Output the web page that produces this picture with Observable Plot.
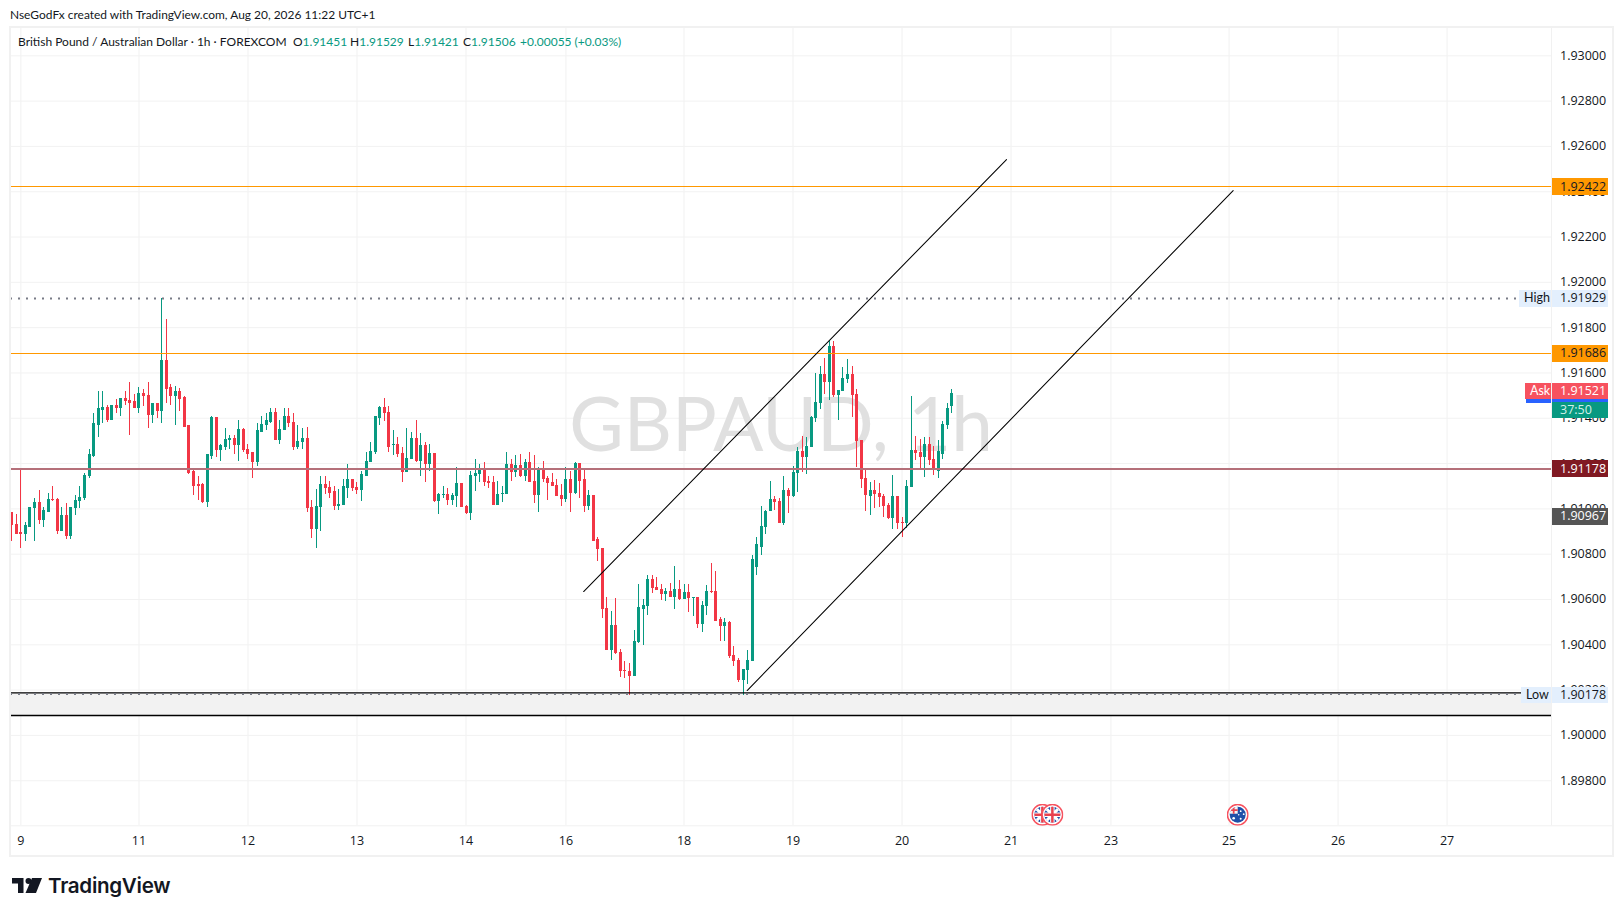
<!DOCTYPE html>
<html>
<head>
<meta charset="utf-8">
<script src="https://cdn.jsdelivr.net/npm/d3@7"></script>
<script src="https://cdn.jsdelivr.net/npm/@observablehq/plot@0.6"></script>
<style>
html,body{margin:0;padding:0;background:#fff;width:1623px;height:916px;overflow:hidden}
#wrap{position:relative;width:1623px;height:916px;font-family:Lato,sans-serif;color:#131722}
#wrap svg.plot{position:absolute;left:0;top:0}
.t{position:absolute;white-space:nowrap;font-size:12px;line-height:16px}
.g{color:#089981}
#frame{position:absolute;left:9px;top:26px;width:1601px;height:827px;border:2px solid #f1f1f1;pointer-events:none}
</style>
</head>
<body>
<div id="wrap"></div>
<script>
// GBP/AUD hourly candles, prices in points (1 point = 0.00001)
const opens = [
190981,190929,190894,190885,190920,191000,191026,190947,190986,191039,191039,190898,190969,190876,191000,191031,191044,191141,191233,191370,
191436,191445,191388,191454,191441,191485,191476,191472,191441,191507,191498,191414,191463,191428,191653,191533,191498,191516,191489,191366,
191163,191106,191106,191026,191233,191401,191256,191273,191300,191308,191278,191348,191260,191247,191203,191339,191366,191383,191423,191304,
191344,191406,191379,191273,191291,191308,191004,190907,191004,191106,191092,191075,191009,191013,191092,191128,191092,191079,191145,191203,
191247,191401,191445,191423,191278,191282,191242,191159,191216,191309,191207,191278,191198,191242,191031,191057,191062,191035,191053,191110,
191009,190978,191141,191150,191172,191119,191115,191017,191062,191062,191194,191159,191189,191145,191203,191119,191057,191172,191132,191115,
191101,191057,191040,191128,191066,191198,191128,191009,191057,190863,190823,190558,190373,190483,190365,190285,190281,190259,190408,190558,
190567,190686,190651,190642,190620,190633,190607,190642,190598,190629,190603,190607,190488,190567,190633,190633,190510,190479,190497,190351,
190329,190241,190285,190325,190740,190828,190916,190987,191040,191031,190934,191080,191053,191155,191252,191225,191269,191397,191463,191591,
191560,191715,191499,191516,191569,191591,191503,191300,191133,191053,191080,191066,191053,191013,190956,191053,190938,190934,191093,191256,
191247,191225,191283,191216,191165,191240,191370,191451];
const highs = [
190986,190976,191172,190941,191008,191047,191083,191004,191066,191101,191044,191004,191022,191008,191061,191097,191158,191264,191423,191516,
191516,191458,191458,191481,191489,191516,191556,191507,191538,191529,191560,191463,191467,191929,191838,191547,191542,191533,191498,191370,
191176,191145,191114,191242,191406,191401,191286,191357,191326,191326,191388,191353,191282,191251,191375,191410,191419,191441,191441,191392,
191445,191445,191419,191370,191353,191361,191039,191084,191141,191141,191119,191097,191084,191128,191198,191128,191115,191163,191247,191295,
191410,191450,191489,191454,191348,191313,191273,191353,191339,191392,191331,191291,191282,191242,191066,191097,191088,191070,191181,191110,
191017,191163,191216,191194,191203,191141,191145,191119,191101,191251,191216,191234,191242,191220,191247,191234,191181,191207,191141,191154,
191128,191106,191181,191163,191203,191198,191176,191079,191061,190872,190823,190611,190545,190603,190378,190325,190316,190462,190664,190598,
190704,190704,190695,190664,190647,190669,190744,190682,190664,190664,190611,190607,190589,190660,190761,190722,190522,190514,190501,190391,
190338,190290,190373,190793,190872,191009,190991,191119,191053,191044,191141,191088,191185,191269,191318,191313,191406,191596,191627,191662,
191741,191741,191521,191622,191658,191627,191525,191300,191168,191115,191124,191110,191062,191022,191146,191053,190963,191124,191494,191318,
191305,191313,191313,191274,191300,191385,191465,191529];
const lows = [
190858,190885,190823,190856,190916,190856,190933,190920,190986,191031,190889,190898,190863,190863,190969,191000,191039,191136,191229,191317,
191379,191383,191388,191423,191406,191458,191322,191441,191419,191450,191353,191375,191401,191375,191463,191458,191370,191432,191361,191150,
191061,191039,191022,191004,191216,191229,191207,191256,191260,191242,191211,191251,191220,191136,191185,191339,191348,191375,191300,191286,
191344,191361,191256,191264,191260,190986,190870,190823,190898,191062,191048,190991,190995,191013,191048,191075,191062,191031,191141,191203,
191238,191370,191384,191251,191234,191229,191115,191159,191216,191203,191145,191115,191167,191026,190973,191044,191017,191013,191004,191004,
190973,190947,191075,191115,191101,191088,191013,191017,191026,191062,191123,191137,191137,191123,191115,191022,190982,191115,191035,191097,
191053,191009,191026,190982,191062,191044,190982,190995,190854,190766,190514,190373,190329,190356,190254,190250,190178,190259,190404,190395,
190528,190625,190638,190594,190589,190607,190554,190594,190598,190541,190523,190470,190453,190528,190625,190505,190415,190413,190338,190303,
190232,190178,190223,190325,190708,190793,190885,190987,190991,190934,190925,190978,191049,191071,191159,191150,191269,191380,191437,191503,
191477,191490,191388,191516,191552,191402,191181,191088,190987,190969,191000,191005,190960,190952,190908,190908,190872,190912,191093,191212,
191172,191137,191190,191146,191135,191220,191350,191421];
const closes = [
190926,190889,190885,190925,191004,191026,190947,190991,191039,191035,190898,190969,190876,191004,191035,191048,191145,191238,191375,191441,
191445,191388,191454,191441,191485,191472,191467,191441,191507,191494,191414,191463,191428,191653,191529,191498,191516,191485,191361,191158,
191101,191101,191026,191238,191401,191256,191278,191304,191308,191278,191348,191256,191242,191203,191344,191370,191388,191423,191304,191348,
191406,191375,191273,191295,191308,191000,190907,191009,191106,191088,191070,191009,191017,191097,191128,191088,191079,191150,191207,191251,
191406,191445,191419,191273,191282,191238,191159,191220,191309,191207,191278,191198,191242,191031,191062,191062,191035,191057,191110,191004,
190978,191145,191154,191172,191115,191110,191017,191062,191066,191194,191159,191189,191145,191203,191115,191057,191172,191128,191110,191097,
191053,191040,191128,191066,191198,191123,191009,191057,190858,190819,190554,190373,190483,190360,190281,190281,190259,190413,190563,190572,
190686,190647,190638,190620,190633,190607,190642,190598,190629,190603,190607,190488,190572,190633,190629,190505,190479,190497,190347,190325,
190241,190290,190329,190775,190841,190919,190987,191040,191027,190934,191080,191053,191159,191252,191225,191274,191402,191468,191591,191560,
191715,191499,191521,191574,191591,191499,191296,191128,191058,191080,191062,191049,191009,190956,191053,190934,190934,191097,191256,191243,
191225,191283,191212,191177,191250,191370,191440,191506];

const dayLabels = ["9","11","12","13","14","16","18","19","20","21","23","25","26","27"];
const dayBars   = [2,28,52,76,100,122,148,172,196,220,242,268,292,316];
const priceTicks = [1.898,1.9,1.902,1.904,1.906,1.908,1.91,1.912,1.914,1.916,1.918,1.92,1.922,1.924,1.926,1.928,1.93];

const levelPrices = [1.92422,1.91686,1.91178];
const levelColors = ["#ff9800","#ff9800","#b5707a"];
const levelWidths = [1,1,2];
const highPrice = 1.91929, lowPrice = 1.90178;
const zoneTop = 1.90188, zoneBottom = 1.90088;

const channelUpperBars = [125.9,219], channelUpperPrices = [1.90635,1.92542];
const channelLowerBars = [161.9,268.9], channelLowerPrices = [1.90198,1.92405];

const tagPrices = [1.92422,1.91929,1.91686,1.91506,1.91521,1.91437,1.91178,1.90967,1.90178];
const tagLabels = ["1.92422","1.91929","1.91686","","1.91521","37:50","1.91178","1.90967","1.90178"];
const tagFills  = ["#ff9800","#e3effd","#ff9800","#2962ff","#f7525f","#089981","#801922","#555555","#e3effd"];
const tagInks   = ["#131722","#131722","#131722","#ffffff","#ffffff","#d5f0ea","#ffffff","#ffffff","#131722"];
const sideNames  = ["High","","Ask","Low"];
const sidePrices = [1.91929,1.91506,1.91521,1.90178];
const sideFills  = ["#e3effd","#2962ff","#f7525f","#e3effd"];
const sideInks   = ["#131722","#ffffff","#ffffff","#131722"];
const sideLeft   = [1519,1526,1525,1521];

const eventBars = [226.9,229.1,269.9];
const eventKinds = ["uk","uk","au"];
const eventPrice = 1.8965;

const candles = opens.map((o,i)=>({i,o:o/1e5,h:highs[i]/1e5,l:lows[i]/1e5,c:closes[i]/1e5}));
const colorOf = d => d.c >= d.o ? "#089981" : "#f23645";
const idx = px => (px-11.3)/4.542;
const xMin = idx(10), xMax = idx(1551);

const svgUri = s => "data:image/svg+xml;charset=utf-8,"+encodeURIComponent(s);
const uk = svgUri(`<svg xmlns="http://www.w3.org/2000/svg" viewBox="0 0 44 44"><defs><clipPath id="c"><circle cx="22" cy="22" r="16"/></clipPath></defs><circle cx="22" cy="22" r="20.5" fill="#fff" stroke="#f7525f" stroke-width="3"/><g clip-path="url(#c)"><rect width="44" height="44" fill="#1f4fa8"/><path d="M4 4L40 40M40 4L4 40" stroke="#fff" stroke-width="6"/><path d="M22 2V42M2 22H42" stroke="#fff" stroke-width="9"/><path d="M22 2V42M2 22H42" stroke="#e8414f" stroke-width="5"/></g></svg>`);
const au = svgUri(`<svg xmlns="http://www.w3.org/2000/svg" viewBox="0 0 44 44"><defs><clipPath id="c"><circle cx="22" cy="22" r="16"/></clipPath></defs><circle cx="22" cy="22" r="20.5" fill="#fff" stroke="#f7525f" stroke-width="3"/><g clip-path="url(#c)"><rect width="44" height="44" fill="#1f4fa8"/><rect x="6" y="6" width="16" height="14" fill="#f4f4f6"/><path d="M14 6V20M6 13H22" stroke="#e8414f" stroke-width="3.5"/><g fill="#fff"><circle cx="14" cy="29" r="2.6"/><circle cx="28" cy="15" r="1.8"/><circle cx="34" cy="21" r="1.8"/><circle cx="28" cy="30" r="2"/><circle cx="24" cy="22" r="1.6"/></g></g></svg>`);

const font = '"Open Sans",sans-serif';
const yMin = 1.89601, yMax = 1.93125;
const chart = Plot.plot({
  width:1623, height:916,
  marginLeft:10, marginRight:72, marginTop:27, marginBottom:90.7,
  x:{type:"linear",domain:[xMin,xMax],axis:null},
  y:{type:"linear",domain:[yMin,yMax],axis:null},
  color:{type:"identity"},
  style:{fontFamily:font,fontSize:"12.5px",color:"#131722",background:"transparent"},
  marks:[
    Plot.ruleX(dayBars,{stroke:"#f1f1f1",strokeWidth:1}),
    Plot.ruleY(priceTicks,{stroke:"#f2f2f2",strokeWidth:1}),
    Plot.ruleX([xMax],{stroke:"#f1f1f1",strokeWidth:1,y1:yMin,y2:yMax}),
    Plot.ruleY([yMin],{stroke:"#f1f1f1",strokeWidth:1,x1:xMin,x2:idx(1612)}),
    Plot.text(["GBPAUD, 1h"],{frameAnchor:"middle",text:d=>d,fontSize:74.6,fill:"#e0e0e0",fontFamily:"Lato,sans-serif"}),
    Plot.rect([0],{x1:xMin,x2:xMax,y1:zoneBottom,y2:zoneTop,fill:"#f2f2f2"}),
    Plot.ruleX(candles,{x:"i",y1:"l",y2:"h",stroke:colorOf,strokeWidth:1,shapeRendering:"crispEdges"}),
    Plot.ruleX(candles,{x:"i",y1:d=>Math.min(d.o,d.c),y2:d=>Math.max(d.o,d.c)+0.00002,stroke:colorOf,strokeWidth:3,shapeRendering:"crispEdges"}),
    Plot.ruleY([zoneTop,zoneBottom],{x1:xMin,x2:xMax,stroke:"#000",strokeWidth:1.3}),
    Plot.ruleY(levelPrices,{x1:xMin,x2:xMax,stroke:(d,i)=>levelColors[i],strokeWidth:(d,i)=>levelWidths[i],shapeRendering:"crispEdges"}),
    Plot.ruleY([highPrice],{x1:xMin,x2:idx(1516),stroke:"#787b86",strokeWidth:2,strokeDasharray:"2,6"}),
    Plot.ruleY([lowPrice],{x1:xMin,x2:idx(1516),stroke:"#787b86",strokeWidth:2,strokeDasharray:"2,6",dy:-1}),
    Plot.line(channelUpperBars,{x:d=>d,y:(d,i)=>channelUpperPrices[i],stroke:"#000",strokeWidth:1.05}),
    Plot.line(channelLowerBars,{x:d=>d,y:(d,i)=>channelLowerPrices[i],stroke:"#000",strokeWidth:1.05}),
    Plot.axisY(priceTicks,{anchor:"right",tickSize:0,tickPadding:8.5,tickFormat:d=>d.toFixed(5),fill:"#131722",label:null,fontSize:12.5}),
    Plot.axisX(dayBars,{anchor:"bottom",tickSize:0,tickPadding:10,tickFormat:(d,i)=>dayLabels[dayBars.indexOf(d)],fill:"#131722",label:null,fontSize:12.5}),
    Plot.image(eventBars,{x:d=>d,y:eventPrice,src:(d,i)=>eventKinds[i]==="uk"?uk:au,width:22,height:22}),
    Plot.ruleY(sidePrices,{x1:(d,i)=>idx(sideLeft[i]),x2:idx(1550.7),stroke:(d,i)=>sideFills[i],strokeWidth:16.7,shapeRendering:"crispEdges"}),
    Plot.ruleY(tagPrices,{x1:idx(1552),x2:idx(1607.7),stroke:(d,i)=>tagFills[i],strokeWidth:16.7,shapeRendering:"crispEdges"}),
    Plot.text(tagPrices,{x:idx(1559.5),y:d=>d,text:(d,i)=>tagLabels[i],fill:(d,i)=>tagInks[i],textAnchor:"start",fontSize:12.5}),
    Plot.text(sidePrices,{x:(d,i)=>idx(sideLeft[i]+4.5),y:d=>d,text:(d,i)=>sideNames[i],fill:(d,i)=>sideInks[i],textAnchor:"start",fontSize:12.5,fontFamily:"Lato,sans-serif"})
  ]
});
const wrap = document.getElementById("wrap");
wrap.appendChild(chart);
wrap.insertAdjacentHTML("beforeend",`
<div id="frame"></div>
<div class="t" style="left:10px;top:7px;font-size:11.95px">NseGodFx created with TradingView.com, Aug 20, 2026 11:22 UTC+1</div>
<div class="t" style="left:18px;top:34px">British Pound / Australian Dollar · 1h · FOREXCOM</div>
<div class="t" style="left:293px;top:34px">O<span class="g">1.91451</span></div>
<div class="t" style="left:350px;top:34px">H<span class="g">1.91529</span></div>
<div class="t" style="left:408px;top:34px">L<span class="g">1.91421</span></div>
<div class="t" style="left:463px;top:34px">C<span class="g">1.91506</span></div>
<div class="t g" style="left:520px;top:34px">+0.00055 (+0.03%)</div>
<svg style="position:absolute;left:12px;top:878px" width="30" height="15" viewBox="0 0 30 15"><path d="M0 0H11.5V15H6V5.5H0Z" fill="#131722"/><circle cx="16.5" cy="3" r="3" fill="#131722"/><path d="M20 0H30L24 15H13.5Z" fill="#131722"/></svg>
<div class="t" style="left:48px;top:873px;font-size:20.6px;line-height:26px;font-weight:600;font-family:Inter,sans-serif;letter-spacing:-.3px">TradingView</div>
`);
</script>
</body>
</html>
